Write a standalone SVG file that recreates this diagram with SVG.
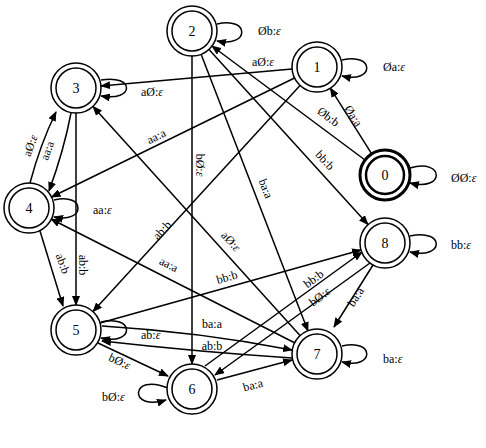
<svg xmlns="http://www.w3.org/2000/svg" width="486" height="448" viewBox="0 0 486 448">
<style>
.n{fill:#fff;stroke:#000;stroke-width:1.5}
.e{fill:none;stroke:#000;stroke-width:1.5;marker-end:url(#a)}
text{font-family:"Liberation Serif",serif;font-size:12px;fill:#000}
.c{font-size:14px;text-anchor:middle;dominant-baseline:central}
.m{text-anchor:middle}
</style>
<defs><marker id="a" markerWidth="10" markerHeight="8" refX="9" refY="4" orient="auto" markerUnits="userSpaceOnUse"><path d="M0,0L10,4L0,8z"/></marker></defs>
<g id="edges">
<path class="e" d="M371.7,153.9L330.3,88.2"/><text class="m" transform="translate(350,118) rotate(58)">Øa:a</text>
<path class="e" d="M365,160L212,46"/><text class="m" transform="translate(326,120) rotate(36.7)">Øb:b</text>
<path class="e" d="M410,168C445,158 445,192 410,183"/><text x="451" y="182">ØØ:<tspan font-style="italic">ε</tspan></text>
<path class="e" d="M342,60C375,52 375,84 342,76"/><text x="383" y="71">Øa:<tspan font-style="italic">ε</tspan></text>
<path class="e" d="M217,24C250,16 250,48 217,41"/><text x="258" y="35">Øb:<tspan font-style="italic">ε</tspan></text>
<path class="e" d="M292,69L101,86"/><text x="252" y="66">aØ:<tspan font-style="italic">ε</tspan></text>
<path class="e" d="M101,80C135,74 135,102 101,96"/><text x="141" y="96">aØ:<tspan font-style="italic">ε</tspan></text>
<path class="e" d="M294.5,78L51.5,197"/><text class="m" transform="translate(158,140) rotate(-26)">aa:a</text>
<path class="e" d="M300,85.4L93,311.6"/><text class="m" transform="translate(165,233) rotate(-47.5)">ab:b</text>
<path class="e" d="M192,56L192,364"/><text class="m" transform="translate(196,165) rotate(90)">bØ:<tspan font-style="italic">ε</tspan></text>
<path class="e" d="M201,54L308,331"/><text class="m" transform="translate(262,190) rotate(68.8)">ba:a</text>
<path class="e" d="M209,49.5L368,224.5"/><text class="m" transform="translate(322,163) rotate(47.7)">bb:b</text>
<path class="e" d="M300,335.5L93,106.5"/><text class="m" transform="translate(228,244) rotate(47.8)">aØ:<tspan font-style="italic">ε</tspan></text>
<path class="e" d="M295,343L51,219"/><text class="m" transform="translate(167,268) rotate(26.9)">aa:a</text>
<path class="e" d="M30,183Q40,145 56,112"/><text class="m" transform="translate(34,147) rotate(-70)">aØ:<tspan font-style="italic">ε</tspan></text>
<path class="e" d="M71,113Q64,150 49,191"/><text class="m" transform="translate(51,152) rotate(-70)">aa:a</text>
<path class="e" d="M54,200C86,192 86,224 54,217"/><text x="93" y="214">aa:<tspan font-style="italic">ε</tspan></text>
<path class="e" d="M40,231L63,306"/><text class="m" transform="translate(59,265) rotate(70)">ab:b</text>
<path class="e" d="M76,113L76,305"/><text class="m" transform="translate(79,265) rotate(90)">ab:b</text>
<path class="e" d="M100,323L361,250"/><text class="m" transform="translate(228,281) rotate(-15.7)">bb:b</text>
<path class="e" d="M101,322C135,314 135,346 101,338"/><text x="141" y="339">ab:<tspan font-style="italic">ε</tspan></text>
<path class="e" d="M102,326Q200,332 292,350"/><text class="m" x="212" y="328">ba:a</text>
<path class="e" d="M292,358Q200,352 102,341"/><text class="m" x="212" y="350">ab:b</text>
<path class="e" d="M98,343L168,376"/><text class="m" transform="translate(118,365) rotate(25)">bØ:<tspan font-style="italic">ε</tspan></text>
<path class="e" d="M168,388C130,372 128,412 166,400"/><text x="102" y="401">bØ:<tspan font-style="italic">ε</tspan></text>
<path class="e" d="M217,380L292,360"/><text class="m" transform="translate(254,389) rotate(-15)">ba:a</text>
<path class="e" d="M205,366L362,252"/><text class="m" transform="translate(316,282) rotate(-37)">bb:b</text>
<path class="e" d="M370,263L215,375"/><text class="m" transform="translate(322,300) rotate(-37)">bØ:<tspan font-style="italic">ε</tspan></text>
<path class="e" d="M373,265L334,327"/><text class="m" transform="translate(359,299) rotate(-57)">ba:a</text>
<path class="e" d="M410,236C445,228 445,260 410,252"/><text x="451" y="249">bb:<tspan font-style="italic">ε</tspan></text>
<path class="e" d="M342,346C375,338 375,370 342,362"/><text x="383" y="363">ba:<tspan font-style="italic">ε</tspan></text>
</g>
<g id="n0"><circle class="n" cx="385" cy="175" r="25" style="stroke-width:3"/><circle class="n" cx="385" cy="175" r="19" style="stroke-width:2.5"/><text class="c" x="385" y="175">0</text></g>
<g id="n1"><circle class="n" cx="317" cy="67" r="25"/><circle class="n" cx="317" cy="67" r="20"/><text class="c" x="317" y="67">1</text></g>
<g id="n2"><circle class="n" cx="192" cy="31" r="25"/><circle class="n" cx="192" cy="31" r="20"/><text class="c" x="192" y="31">2</text></g>
<g id="n3"><circle class="n" cx="76" cy="88" r="25"/><circle class="n" cx="76" cy="88" r="20"/><text class="c" x="76" y="88">3</text></g>
<g id="n4"><circle class="n" cx="29" cy="208" r="25"/><circle class="n" cx="29" cy="208" r="20"/><text class="c" x="29" y="208">4</text></g>
<g id="n5"><circle class="n" cx="76" cy="330" r="25"/><circle class="n" cx="76" cy="330" r="20"/><text class="c" x="76" y="330">5</text></g>
<g id="n6"><circle class="n" cx="192" cy="389" r="25"/><circle class="n" cx="192" cy="389" r="20"/><text class="c" x="192" y="389">6</text></g>
<g id="n7"><circle class="n" cx="317" cy="354" r="25"/><circle class="n" cx="317" cy="354" r="20"/><text class="c" x="317" y="354">7</text></g>
<g id="n8"><circle class="n" cx="385" cy="243" r="25"/><circle class="n" cx="385" cy="243" r="20"/><text class="c" x="385" y="243">8</text></g>
</svg>
